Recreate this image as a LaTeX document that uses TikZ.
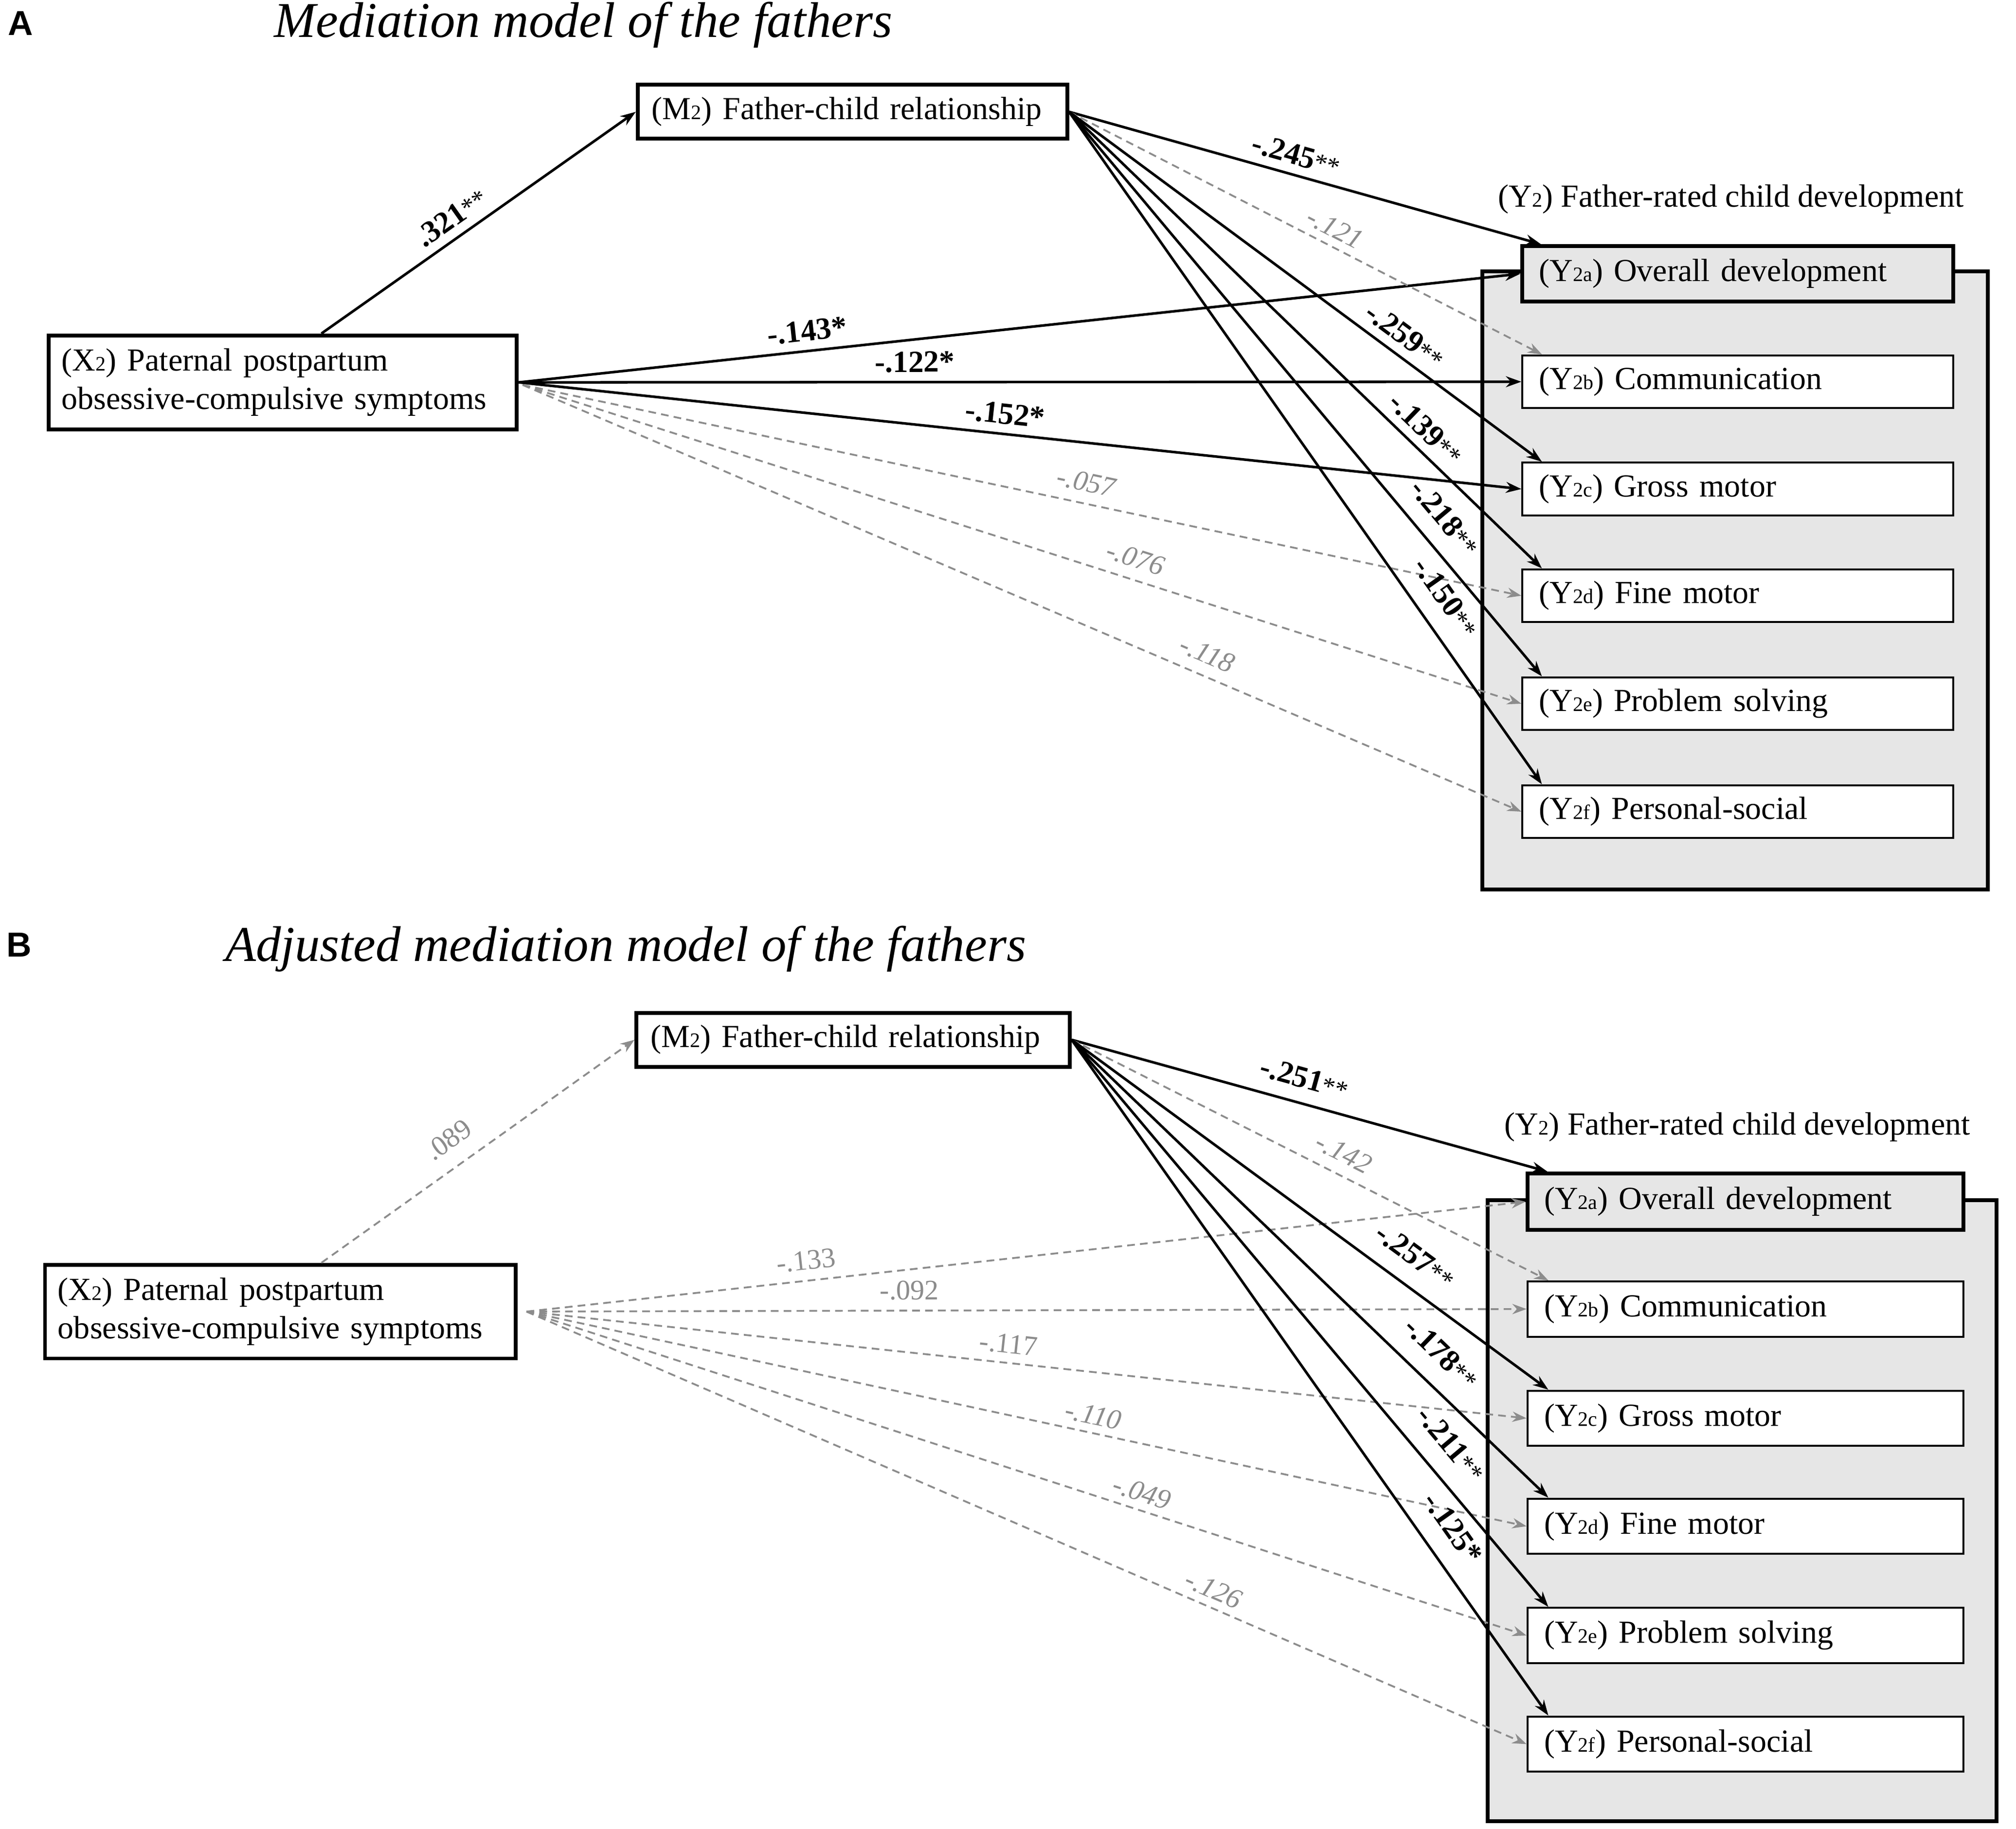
\documentclass[tikz,border=0pt]{standalone}
\usepackage{fontspec}
\setmainfont{Liberation Serif}
\newfontfamily\arialfont{Liberation Sans}
\usetikzlibrary{arrows.meta}
\definecolor{dgray}{HTML}{8C8C8C}
\definecolor{boxgray}{HTML}{E6E6E6}
\newcommand{\lowtxt}[1]{{\fontsize{16}{16}\selectfont #1}}
\newcommand{\twostar}{{\fontsize{20}{20}\selectfont\mdseries **}}
\tikzset{
  letter/.style={font=\arialfont\bfseries\fontsize{27}{27}\selectfont, inner sep=0pt},
  ttl/.style={font=\itshape\fontsize{39}{41}\selectfont, inner sep=0pt},
  hdr/.style={font=\fontsize{25}{28}\selectfont, inner sep=0pt},
  mbox/.style={draw, line width=3pt, fill=white, font=\fontsize{25}{30}\selectfont,
    inner xsep=11pt, inner ysep=0pt, minimum height=42pt, align=left},
  xbox/.style={draw, line width=3pt, fill=white, font=\fontsize{25}{30}\selectfont,
    inner xsep=10pt, inner ysep=0pt, minimum height=73pt, align=left},
  ybox/.style={draw, line width=1.5pt, fill=white, font=\fontsize{25}{30}\selectfont,
    inner xsep=13pt, inner ysep=0pt, minimum height=41pt, align=left},
  yboxa/.style={ybox, line width=3pt, fill=boxgray, minimum height=43pt},
  cont/.style={draw, line width=3pt, fill=boxgray, inner sep=0pt},
  solidarr/.style={draw, line width=2pt, -{Stealth[length=12pt,width=8.5pt]}},
  dsharr/.style={draw=dgray, line width=1.4pt, dash pattern=on 6pt off 4pt, -{Stealth[length=11pt,width=8pt]}},
  blab/.style={font=\bfseries\fontsize{24}{24}\selectfont, sloped, above=5pt, inner sep=1.5pt},
  glab/.style={text=dgray, font=\fontsize{22}{22}\selectfont, sloped, above=4pt, inner sep=1.5pt},
  gilab/.style={glab, font=\itshape\fontsize{22}{22}\selectfont},
}
\begin{document}
\begin{tikzpicture}[x=1pt,y=-1pt]
\useasboundingbox (0,0) rectangle (1568,1423);
\fill[white] (0,0) rectangle (1568,1423);

% ---------------- Panel A ----------------
\node[letter] (LA) at (16,18) {A};
\node[ttl, anchor=base west] (TA) at (213,29) {Mediation model of the fathers};
\node[hdr, anchor=base west] (HA) at (1165,161) {(Y\lowtxt{2}) Father-rated child development};
\node[cont, minimum width=393pt, minimum height=481pt] (CA) at (1349.5,451.5) {};
\node[mbox, text width=312pt] (M2A) at (663,87) {(M\lowtxt{2}) Father-child relationship};
\node[xbox, text width=344pt] (X2A) at (220,297.5) {(X\lowtxt{2}) Paternal postpartum\\obsessive-compulsive symptoms};
\node[yboxa, text width=309pt] (YaA) at (1351.5,213) {(Y\lowtxt{2a}) Overall development};
\node[ybox, text width=309pt] (YbA) at (1351.5,297) {(Y\lowtxt{2b}) Communication};
\node[ybox, text width=309pt] (YcA) at (1351.5,380.5) {(Y\lowtxt{2c}) Gross motor};
\node[ybox, text width=309pt] (YdA) at (1351.5,463.5) {(Y\lowtxt{2d}) Fine motor};
\node[ybox, text width=309pt] (YeA) at (1351.5,547.5) {(Y\lowtxt{2e}) Problem solving};
\node[ybox, text width=309pt] (YfA) at (1351.5,631.5) {(Y\lowtxt{2f}) Personal-social};

\path[solidarr] ([xshift=30pt]X2A.north) -- (M2A.west) node[blab,pos=0.45]{.321\twostar};
\path[solidarr] (X2A.east) -- (YaA.west) node[blab,pos=0.29]{-.143*};
\path[solidarr] (X2A.east) -- (YbA.west) node[blab,pos=0.395]{-.122*};
\path[solidarr] (X2A.east) -- (YcA.west) node[blab,pos=0.483]{-.152*};
\path[dsharr] ([xshift=3pt,yshift=-2pt]X2A.east) -- (YdA.west) node[gilab,pos=0.56,above=3pt]{-.057};
\path[dsharr] ([xshift=3pt,yshift=-2pt]X2A.east) -- (YeA.west) node[gilab,pos=0.607,above=3pt]{-.076};
\path[dsharr] ([xshift=3pt,yshift=-2pt]X2A.east) -- (YfA.west) node[gilab,pos=0.677,above=3pt]{-.118};

\path[solidarr] (M2A.east) -- ([xshift=16pt]YaA.north west) node[blab,pos=0.47]{-.245\twostar};
\path[dsharr] (M2A.east) -- ([xshift=16pt]YbA.north west) node[gilab,pos=0.545]{-.121};
\path[solidarr] (M2A.east) -- ([xshift=16pt]YcA.north west) node[blab,pos=0.685]{-.259\twostar};
\path[solidarr] (M2A.east) -- ([xshift=16pt]YdA.north west) node[blab,pos=0.725]{-.139\twostar};
\path[solidarr] (M2A.east) -- ([xshift=16pt]YeA.north west) node[blab,pos=0.75,above=6pt]{-.218\twostar};
\path[solidarr] (M2A.east) -- ([xshift=16pt]YfA.north west) node[blab,pos=0.747,above=7pt]{-.150\twostar};

% ---------------- Panel B ----------------
\node[letter] (LB) at (15,735) {B};
\node[ttl, anchor=base west] (TB) at (175,748) {Adjusted mediation model of the fathers};
\node[hdr, anchor=base west] (HB) at (1170,883) {(Y\lowtxt{2}) Father-rated child development};
\node[cont, minimum width=396pt, minimum height=483pt] (CB) at (1355,1175.5) {};
\node[mbox, text width=315pt] (M2B) at (663.5,809) {(M\lowtxt{2}) Father-child relationship};
\node[xbox, text width=346pt] (X2B) at (218,1020.5) {(X\lowtxt{2}) Paternal postpartum\\obsessive-compulsive symptoms};
\node[yboxa, text width=313pt, minimum height=44pt] (YaB) at (1357.5,935) {(Y\lowtxt{2a}) Overall development};
\node[ybox, text width=313pt, minimum height=43pt] (YbB) at (1357.5,1018.5) {(Y\lowtxt{2b}) Communication};
\node[ybox, text width=313pt, minimum height=43pt] (YcB) at (1357.5,1103.5) {(Y\lowtxt{2c}) Gross motor};
\node[ybox, text width=313pt, minimum height=43pt] (YdB) at (1357.5,1187.5) {(Y\lowtxt{2d}) Fine motor};
\node[ybox, text width=313pt, minimum height=43pt] (YeB) at (1357.5,1272.5) {(Y\lowtxt{2e}) Problem solving};
\node[ybox, text width=313pt, minimum height=43pt] (YfB) at (1357.5,1357) {(Y\lowtxt{2f}) Personal-social};

\path[dsharr] ([xshift=32pt]X2B.north) -- (M2B.west) node[glab,pos=0.455,above=7pt]{.089};
\path[dsharr] ([xshift=7pt]X2B.east) -- (YaB.west) node[glab,pos=0.282,above=2pt]{-.133};
\path[dsharr] ([xshift=7pt]X2B.east) -- (YbB.west) node[glab,pos=0.383,above=2pt]{-.092};
\path[dsharr] ([xshift=7pt]X2B.east) -- (YcB.west) node[glab,pos=0.48,above=1pt]{-.117};
\path[dsharr] ([xshift=7pt]X2B.east) -- (YdB.west) node[gilab,pos=0.563,above=0pt]{-.110};
\path[dsharr] ([xshift=7pt]X2B.east) -- (YeB.west) node[gilab,pos=0.61,above=0pt]{-.049};
\path[dsharr] ([xshift=7pt]X2B.east) -- (YfB.west) node[gilab,pos=0.68,above=0pt]{-.126};

\path[solidarr] (M2B.east) -- ([xshift=17pt]YaB.north west) node[blab,pos=0.475,above=4pt]{-.251\twostar};
\path[dsharr] (M2B.east) -- ([xshift=17pt]YbB.north west) node[gilab,pos=0.55,above=3pt]{-.142};
\path[solidarr] (M2B.east) -- ([xshift=17pt]YcB.north west) node[blab,pos=0.685,above=7pt]{-.257\twostar};
\path[solidarr] (M2B.east) -- ([xshift=17pt]YdB.north west) node[blab,pos=0.732,above=8pt]{-.178\twostar};
\path[solidarr] (M2B.east) -- ([xshift=17pt]YeB.north west) node[blab,pos=0.747,above=8pt]{-.211\twostar};
\path[solidarr] (M2B.east) -- ([xshift=17pt]YfB.north west) node[blab,pos=0.748,above=8pt]{-.125*};
\end{tikzpicture}
\end{document}
